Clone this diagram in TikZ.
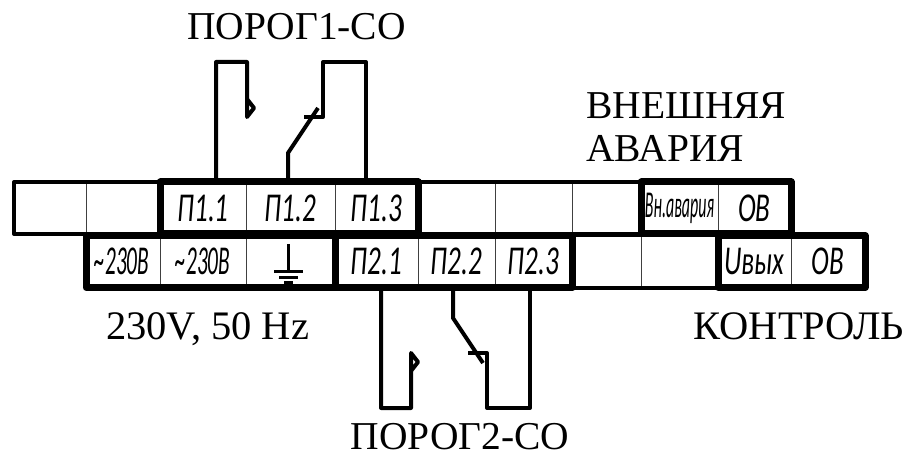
\documentclass[tikz,border=0pt]{standalone}
\usepackage{fontspec}
\setmainfont{Liberation Serif}
\newfontfamily\gostfont[FakeStretch=0.66]{Carlito}
\newfontfamily\gostnarrow[FakeStretch=0.42]{Carlito}
\newfontfamily\gostmid[FakeStretch=0.52]{Carlito}
\usepackage{tikz}
\tikzset{
  cell/.style={rectangle, draw=black!75, line width=1pt, inner sep=0pt, outer sep=0pt, minimum height=52pt, font=\gostfont\itshape\fontsize{41}{41}\selectfont},
  rowline/.style={line width=4pt, line join=round},
  group/.style={line width=7pt, line join=round},
  wire/.style={line width=4pt, line join=round},
  gnd/.style={line width=3pt},
  caption/.style={inner sep=0pt, font=\fontsize{39.5}{42}\selectfont}
}
\begin{document}
\begin{tikzpicture}[x=1pt,y=-1pt]
\useasboundingbox (0,0) rectangle (904,454);
% top row
\node [cell, minimum width=72pt] at (50,208) (t1) {};
\node [cell, minimum width=74pt] at (123,208) (t2) {};
\node [cell, minimum width=86pt] at (203,208) (p11) {П1.1};
\node [cell, minimum width=89pt] at (290.5,208) (p12) {П1.2};
\node [cell, minimum width=83pt] at (376.5,208) (p13) {П1.3};
\node [cell, minimum width=77pt] at (456.5,208) (t6) {};
\node [cell, minimum width=77pt] at (533.5,208) (t7) {};
\node [cell, minimum width=69pt] at (606.5,208) (t8) {};
\node [cell, minimum width=77pt, font=\gostnarrow\itshape\fontsize{38}{38}\selectfont] at (679.5,208) (ext) {Вн.авария};
\node [cell, minimum width=73pt] at (754.5,208) (ov1) {ОВ};
% bottom row
\node [cell, minimum width=74pt, font=\gostmid\itshape\fontsize{41}{41}\selectfont] at (123,261.5) (l1) {\kern-2pt\char"7E 230В};
\node [cell, minimum width=86pt, font=\gostmid\itshape\fontsize{41}{41}\selectfont] at (203,261.5) (l2) {\char"7E 230В};
\node [cell, minimum width=89pt] at (290.5,261.5) (pe) {};
\node [cell, minimum width=83pt] at (376.5,261.5) (p21) {П2.1};
\node [cell, minimum width=77pt] at (456.5,261.5) (p22) {П2.2};
\node [cell, minimum width=77pt] at (533.5,261.5) (p23) {П2.3};
\node [cell, minimum width=69pt] at (606.5,261.5) (b7) {};
\node [cell, minimum width=77pt] at (679.5,261.5) (b8) {};
\node [cell, minimum width=73pt] at (754.5,261.5) (uout) {Uвых};
\node [cell, minimum width=74pt] at (828,261.5) (ov2) {ОВ};
% outlines
\draw [rowline] (t1.north west) rectangle (ov1.south east);
\draw [rowline] (l1.north west) rectangle (ov2.south east);
\draw [group] (p11.north west) rectangle (p13.south east);
\draw [group] (ext.north west) rectangle (ov1.south east);
\draw [group] (l1.north west) rectangle (pe.south east);
\draw [group] (p21.north west) rectangle (p23.south east);
\draw [group] (uout.north west) rectangle (ov2.south east);
% earth
\coordinate (e0) at (288,244);
\coordinate (e1) at (288,271);
\draw [wire, line width=3pt] (e0) -- (e1);
\draw [gnd] ([xshift=-14pt]e1) -- ([xshift=15pt]e1);
\draw [gnd] ([xshift=-9pt,yshift=-6pt]e1) -- ([xshift=10pt,yshift=-6pt]e1);
\draw [gnd] ([xshift=-4pt,yshift=-11pt]e1) -- ([xshift=5pt,yshift=-11pt]e1);
% relay 1
\coordinate (a1) at (216,62);
\coordinate (a2) at (247,62);
\coordinate (a3) at (247,117);
\coordinate (a4) at (247,99);
\coordinate (a5) at (254,108);
\coordinate (c1) at (288,153);
\coordinate (c2) at (318,108);
\coordinate (d1) at (304,117);
\coordinate (d2) at (323,117);
\coordinate (d3) at (323,62);
\coordinate (d4) at (366,62);
\draw [wire] (p11.north -| a1) -- (a1) -- (a2) -- (a3) -- (a5) -- (a4);
\draw [wire] (p12.north -| c1) -- (c1) -- (c2);
\draw [wire] (d1) -- (d2) -- (d3) -- (d4) -- (p13.north -| d4);
% relay 2
\coordinate (f1) at (381,408);
\coordinate (f2) at (411,408);
\coordinate (f3) at (411,353);
\coordinate (f4) at (418,362);
\coordinate (f5) at (411,371);
\coordinate (g1) at (453,318);
\coordinate (g2) at (483,363);
\coordinate (h1) at (468,353);
\coordinate (h2) at (487,353);
\coordinate (h3) at (487,408);
\coordinate (h4) at (530,408);
\draw [wire] (p21.south -| f1) -- (f1) -- (f2) -- (f3) -- (f4) -- (f5);
\draw [wire] (p22.south -| g1) -- (g1) -- (g2);
\draw [wire] (h1) -- (h2) -- (h3) -- (h4) -- (p23.south -| h4);
% captions
\node [caption, anchor=base] at (296.5,40) (top) {ПОРОГ1-СО};
\node [caption, anchor=base west] at (586,119) (ava) {ВНЕШНЯЯ};
\node [caption, anchor=base west] at (586,162) (avb) {АВАРИЯ};
\node [caption, anchor=base west, font=\fontsize{40.5}{42}\selectfont] at (106,339) (pow) {230V, 50 Hz};
\node [caption, anchor=base east, font=\fontsize{40.5}{42}\selectfont] at (904,339) (ctl) {КОНТРОЛЬ};
\node [caption, anchor=base] at (460,449) (bot) {ПОРОГ2-СО};
\end{tikzpicture}
\end{document}
